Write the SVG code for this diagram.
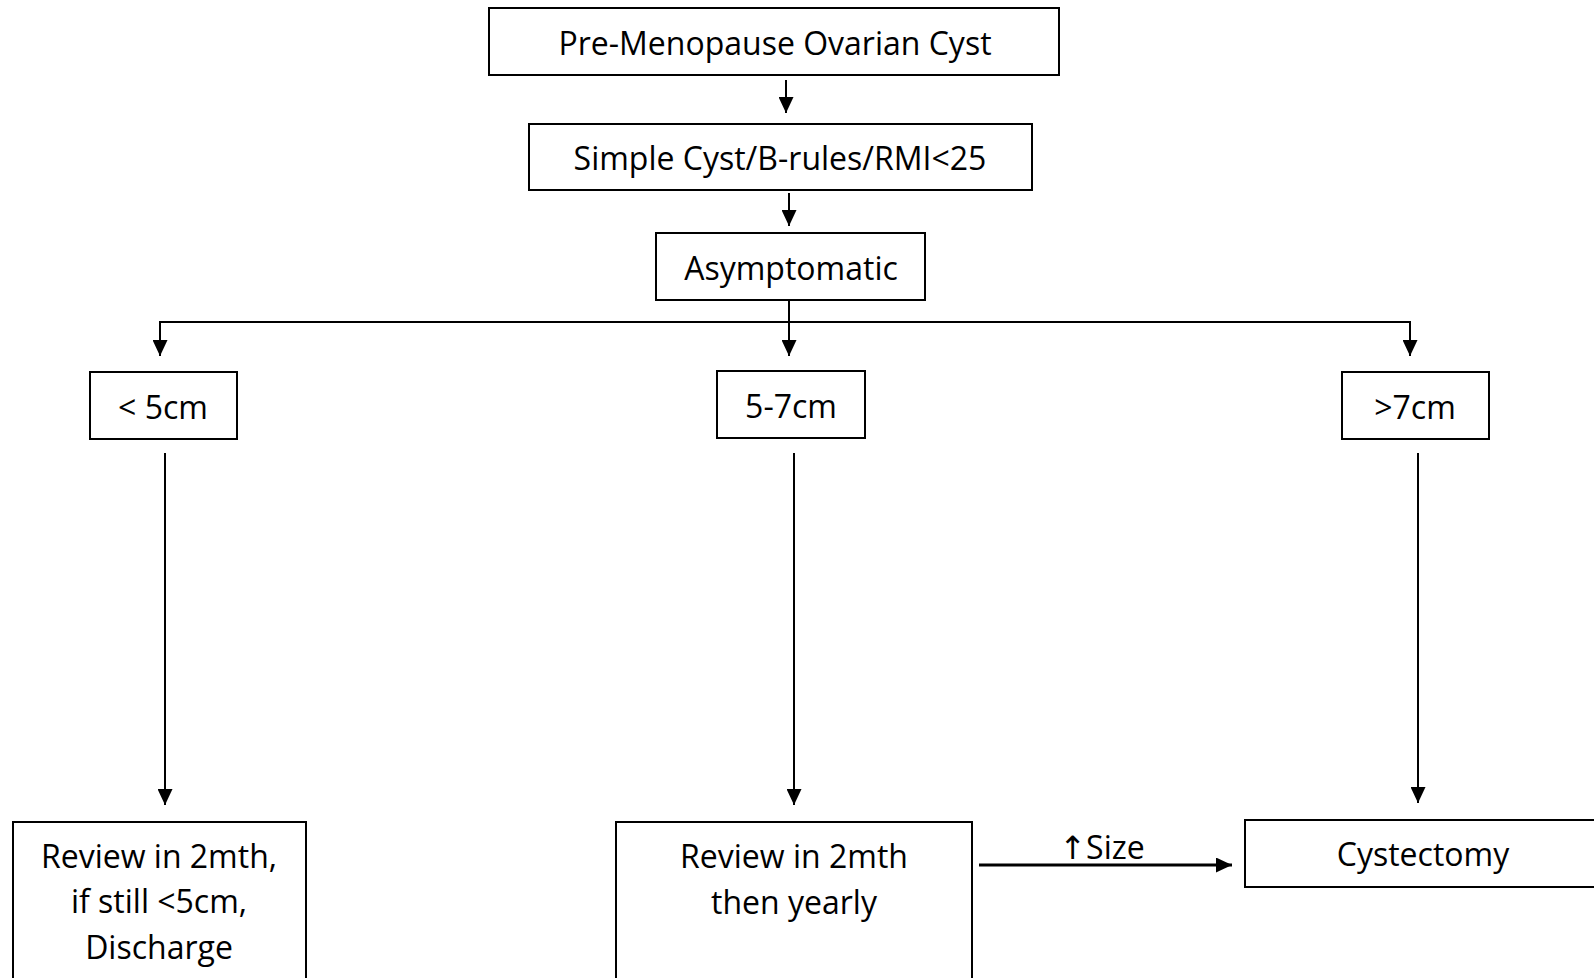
<svg xmlns="http://www.w3.org/2000/svg" width="1594" height="978" viewBox="0 0 1594 978">
<defs>
<style>
.box{fill:#fff;stroke:#000;stroke-width:2}
.t{font-family:"Open Sans","DejaVu Sans",sans-serif;font-size:32px;fill:#000;text-anchor:middle}
.c{fill:none;stroke:#000;stroke-width:2}
.c3{fill:none;stroke:#000;stroke-width:3}
</style>
<marker id="ah" markerUnits="userSpaceOnUse" markerWidth="16" markerHeight="15" refX="16" refY="7.5" orient="auto">
<path d="M0,0 L16,7.5 L0,15 z" fill="#000"/>
</marker>
</defs>
<rect width="1594" height="978" fill="#fff"/>
<g id="connectors">
<line class="c" x1="786" y1="80" x2="786" y2="113" marker-end="url(#ah)"/>
<line class="c" x1="789" y1="193" x2="789" y2="226" marker-end="url(#ah)"/>
<line class="c" x1="789" y1="301" x2="789" y2="356" marker-end="url(#ah)"/>
<line class="c" x1="159" y1="322" x2="1411" y2="322"/>
<line class="c" x1="160" y1="322" x2="160" y2="356" marker-end="url(#ah)"/>
<line class="c" x1="1410" y1="322" x2="1410" y2="356" marker-end="url(#ah)"/>
<line class="c" x1="165" y1="453" x2="165" y2="805" marker-end="url(#ah)"/>
<line class="c" x1="794" y1="453" x2="794" y2="805" marker-end="url(#ah)"/>
<line class="c" x1="1418" y1="453" x2="1418" y2="803" marker-end="url(#ah)"/>
<line class="c3" x1="979" y1="865" x2="1232" y2="865" marker-end="url(#ah)"/>
<text class="t" x="1102" y="859">↑Size</text>
</g>
<g id="n1"><rect class="box" x="489" y="8" width="570" height="67"/><text class="t" x="775" y="55">Pre-Menopause Ovarian Cyst</text></g>
<g id="n2"><rect class="box" x="529" y="124" width="503" height="66"/><text class="t" x="780" y="170">Simple Cyst/B-rules/RMI&lt;25</text></g>
<g id="n3"><rect class="box" x="656" y="233" width="269" height="67"/><text class="t" x="791" y="280">Asymptomatic</text></g>
<g id="n4"><rect class="box" x="90" y="372" width="147" height="67"/><text class="t" x="163" y="419">&lt; 5cm</text></g>
<g id="n5"><rect class="box" x="717" y="371" width="148" height="67"/><text class="t" x="791" y="418">5-7cm</text></g>
<g id="n6"><rect class="box" x="1342" y="372" width="147" height="67"/><text class="t" x="1415" y="419">&gt;7cm</text></g>
<g id="n7"><rect class="box" x="13" y="822" width="293" height="170"/><text class="t" x="159" y="868">Review in 2mth,</text><text class="t" x="159" y="913">if still &lt;5cm,</text><text class="t" x="159" y="959">Discharge</text></g>
<g id="n8"><rect class="box" x="616" y="822" width="356" height="170"/><text class="t" x="794" y="868">Review in 2mth</text><text class="t" x="794" y="914">then yearly</text></g>
<g id="n9"><rect class="box" x="1245" y="820" width="370" height="67"/><text class="t" x="1423" y="866">Cystectomy</text></g>
</svg>
